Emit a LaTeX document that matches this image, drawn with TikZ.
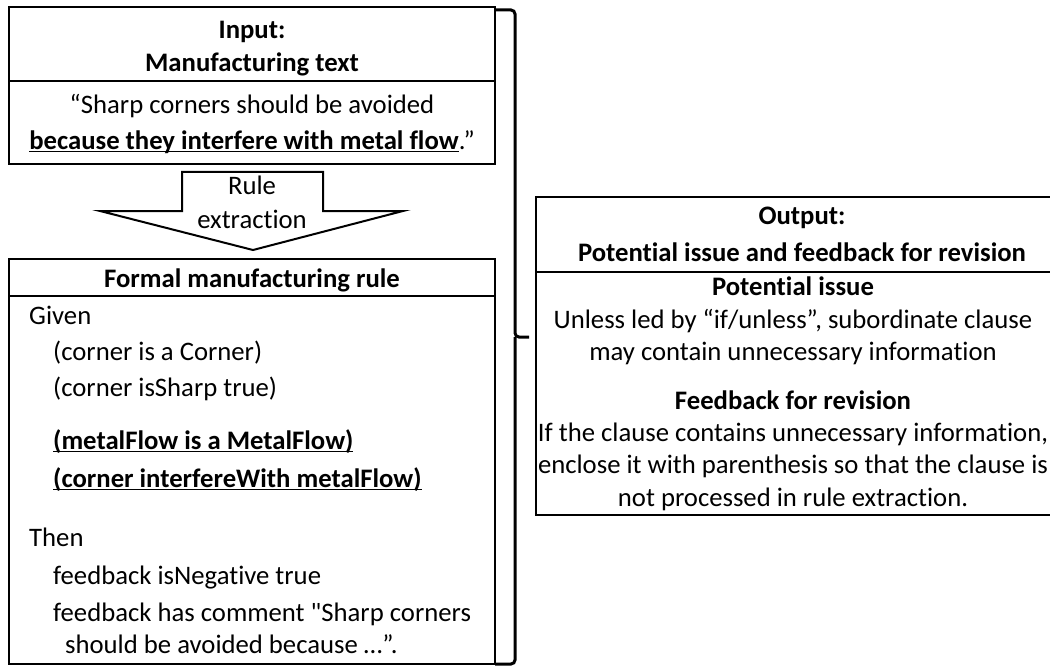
\documentclass[tikz,border=0pt]{standalone}
\usepackage{fontspec}
\setmainfont{Carlito}[Ligatures={TeXOff,NoCommon}]
\newcommand\ulbf[1]{\textbf{\underline{\smash{#1}}}}
\begin{document}
\begin{tikzpicture}[x=1pt, y=-1pt,
    frame/.style={line width=2.6pt},
    rulebar/.style={line width=2pt},
    brk/.style={line width=3pt, rounded corners=4pt},
    txt/.style={inner sep=0pt, anchor=mid, yshift=-2pt, font=\fontsize{26.7}{32}\selectfont},
    lft/.style={txt, anchor=mid west},
    hd/.style={txt, font=\fontsize{26.7}{32}\selectfont\bfseries}]
  \useasboundingbox (0,0) rectangle (1050,666);
  % input box
  \draw[frame] (9,7) rectangle (495,164);
  \draw[rulebar] (9,81) -- (495,81);
  \node[hd] (inA) at (252,34) {Input:};
  \node[hd] (inB) at (252,67) {Manufacturing text};
  \node[txt] (inC) at (252,109) {“Sharp corners should be avoided};
  \node[txt] (inD) at (252,145) {\ulbf{because they interfere with metal flow}.”};
  % extraction arrow
  \draw[rulebar, line join=miter] (182,172) -- (323,172) -- (323,211) -- (403,211) -- (253,250)
    -- (100,211) -- (182,211) -- cycle;
  \node[txt] (exA) at (252,190) {Rule};
  \node[txt] (exB) at (252,224) {extraction};
  % formal rule box
  \draw[frame] (9,259) rectangle (495,664);
  \draw[rulebar] (9,296) -- (495,296);
  \node[hd] (fmT) at (252,283) {Formal manufacturing rule};
  \node[lft] (gv) at (29,320) {Given};
  \foreach \nm/\yy/\tx in {gvA/356/{(corner is a Corner)}, gvB/392/{(corner isSharp true)},
      thA/580/{feedback isNegative true}, thB/617/{feedback has comment "Sharp corners}}
    \node[lft] (\nm) at (53,\yy) {\tx};
  \node[lft] (gvC) at (53,445) {\ulbf{(metalFlow is a MetalFlow)}};
  \node[lft] (gvD) at (53,483) {\ulbf{(corner interfereWith metalFlow)}};
  \node[lft] (th) at (29,542) {Then};
  \node[lft] (thC) at (65,649) {should be avoided because …”.};
  % bracket
  \coordinate (brA) at (495,10); \coordinate (brM) at (515,337);
  \coordinate (brTip) at (529,337); \coordinate (brB) at (495,664);
  \draw[brk] (brA) -| (brM) -- (brTip);
  \draw[brk] (brM) |- (brB);
  % output box
  \draw[frame] (536,197) rectangle (1053,515);
  \draw[rulebar] (536,272) -- (1053,272);
  \node[hd] (outA) at (802,220) {Output:};
  \node[hd] (outB) at (802,257) {Potential issue and feedback for revision};
  \node[hd] (piT) at (793,291) {Potential issue};
  \node[txt] (piA) at (793,324) {Unless led by “if/unless”, subordinate clause};
  \node[txt] (piB) at (793,356) {may contain unnecessary information};
  \node[hd] (fbT) at (793,405) {Feedback for revision};
  \node[txt] (fbA) at (793,437) {If the clause contains unnecessary information,};
  \node[txt] (fbB) at (793,469) {enclose it with parenthesis so that the clause is};
  \node[txt] (fbC) at (793,502) {not processed in rule extraction.};
\end{tikzpicture}
\end{document}
